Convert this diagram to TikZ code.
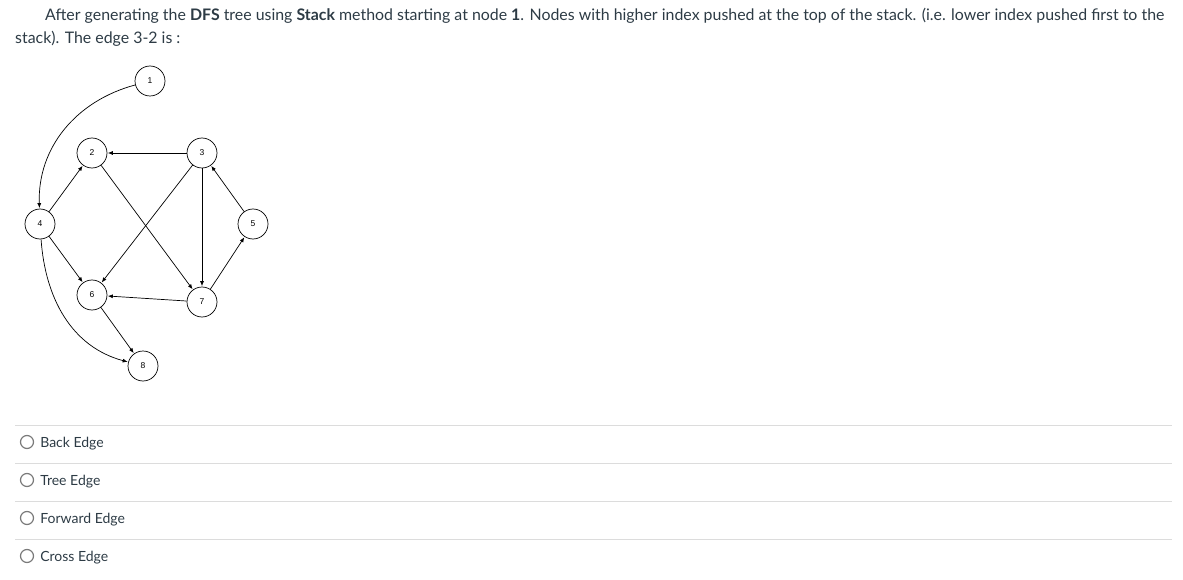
\documentclass[tikz,border=0pt]{standalone}
\usepackage{fontspec}
\setmainfont{Lato}
\newfontfamily\graphfont{Liberation Sans}
\usepackage{tikz}
\usetikzlibrary{arrows.meta, positioning}
\definecolor{quiztext}{HTML}{2D3B45}
\definecolor{quizrule}{HTML}{DCDCDC}
\definecolor{quizradio}{HTML}{7A7A7A}
\newcommand{\QuizOptions}{Back Edge,Tree Edge,Forward Edge,Cross Edge}

\begin{document}
\begin{tikzpicture}[
	x=1pt, y=-1pt,
	question text/.style={
		anchor=base west,
		inner sep=0,
		text=quiztext,
		font=\fontsize{15.9}{19}\selectfont
	},
	graph node/.style={
		draw,
		circle,
		minimum size=30pt,
		inner sep=0,
		line width=0.7pt,
		font=\graphfont\fontsize{8.5}{9}\selectfont
	},
	graph edge/.style={
		-{Latex[length=5pt,width=4pt]},
		line width=0.7pt,
		shorten >=0.5pt
	},
	option rule/.style={
		draw=quizrule,
		line width=1pt
	},
	option radio/.style={
		draw=quizradio,
		circle,
		line width=1.2pt,
		minimum size=13pt,
		inner sep=0
	},
	option text/.style={
		anchor=west,
		inner sep=0,
		text=quiztext,
		font=\fontsize{14}{16}\selectfont
	}
]
	\useasboundingbox (0,0) rectangle (1183,580);
	% question
	\node[question text] (line 1) at (45,21) {After generating the \textbf{DFS} tree using \textbf{Stack} method starting at node \textbf{1}. Nodes with higher index pushed at the top of the stack. (i.e. lower index pushed first to the};
	\node[question text] (line 2) at (15,44) {stack). The edge 3-2 is :};
	% graph
	\node[graph node] (n1) at (150,81) {1};
	\node[graph node] (n2) at (92,153) {2};
	\node[graph node] (n3) at (202,153) {3};
	\node[graph node] (n4) at (40,224) {4};
	\node[graph node] (n5) at (253,224) {5};
	\node[graph node] (n6) at (92,295) {6};
	\node[graph node] (n7) at (202,302) {7};
	\node[graph node] (n8) at (143,366) {8};
	\draw[graph edge] (n1) to[out=195, in=92] (n4);
	\draw[graph edge] (n4) to[out=-86, in=165] (n8);
	\foreach \a/\b in {3/2, 4/2, 5/3, 2/7, 3/6, 3/7, 7/5, 4/6, 7/6, 6/8}
		\draw[graph edge] (n\a) -- (n\b);
	% options
	\foreach \o [count=\k from 0] in \QuizOptions {
		\coordinate (rule left \k) at (15,425+38*\k);
		\coordinate (rule right \k) at (1172,425+38*\k);
		\draw[option rule] (rule left \k) -- (rule right \k);
		\node[option radio] (radio \k) at (27,442+38*\k) {};
		\node[option text, right=6pt of radio \k, yshift=-1.5pt] (option \k) {\o};
	}
\end{tikzpicture}
\end{document}
